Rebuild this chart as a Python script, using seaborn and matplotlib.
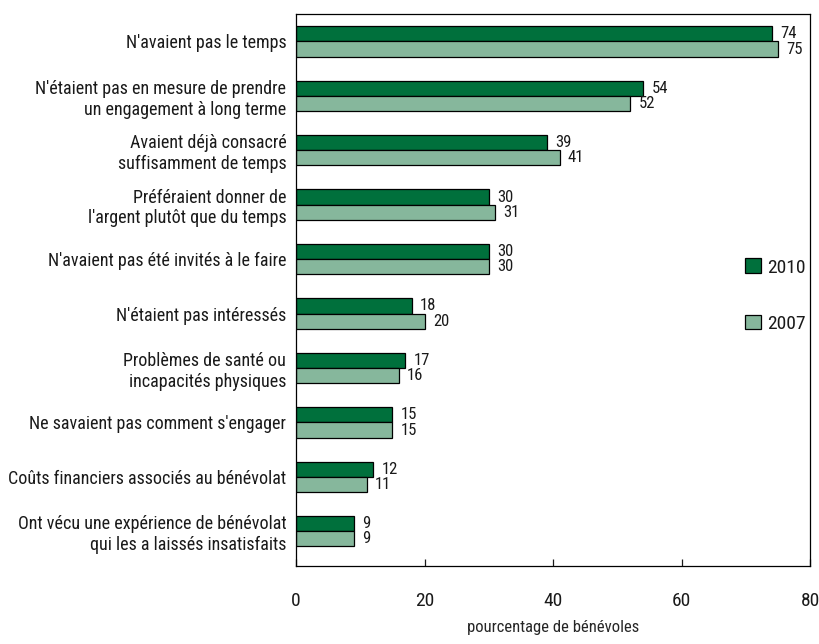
import pandas as pd
import matplotlib.pyplot as plt
import seaborn as sns

# Données
raisons = [
    "N'avaient pas le temps",
    "N'étaient pas en mesure de prendre\nun engagement à long terme",
    "Avaient déjà consacré\nsuffisamment de temps",
    "Préféraient donner de\nl'argent plutôt que du temps",
    "N'avaient pas été invités à le faire",
    "N'étaient pas intéressés",
    "Problèmes de santé ou\nincapacités physiques",
    "Ne savaient pas comment s'engager",
    "Coûts financiers associés au bénévolat",
    "Ont vécu une expérience de bénévolat\nqui les a laissés insatisfaits",
]
val_2010 = [74, 54, 39, 30, 30, 18, 17, 15, 12, 9]
val_2007 = [75, 52, 41, 31, 30, 20, 16, 15, 11, 9]
annees = ["2010", "2007"]
couleurs = ["#00703c", "#86b79c"]

df = pd.DataFrame({
    "raison": raisons * 2,
    "pct": val_2010 + val_2007,
    "annee": ["2010"] * len(raisons) + ["2007"] * len(raisons),
})

sns.set_theme(style="white")
plt.rcParams['font.family'] = ['Roboto Condensed', 'DejaVu Sans']
plt.rcParams['text.color'] = '#1a1a1a'
plt.rcParams['xtick.color'] = '#1a1a1a'
plt.rcParams['ytick.color'] = '#1a1a1a'

fig, ax = plt.subplots(figsize=(8.2, 6.44), dpi=100)

sns.barplot(ax=ax, data=df, y="raison", x="pct", hue="annee", hue_order=annees,
            palette=couleurs, orient="h", width=0.56, edgecolor="black",
            linewidth=0.9, saturation=1)

for cont in ax.containers:
    ax.bar_label(cont, padding=6, fontsize=12)

ax.set_xlim(0, 80)
ax.set_ylim(9.64, -0.5)
ax.set_xticks([0, 20, 40, 60, 80])
ax.tick_params(axis='x', direction='in', length=5, width=0.9, pad=19, labelsize=14, bottom=True)
ax.tick_params(axis='y', length=0, pad=7, labelsize=13)
ax.set_ylabel("")
ax.set_xlabel("pourcentage de bénévoles", fontsize=12, labelpad=7)

for s in ax.spines.values():
    s.set_color("black")
    s.set_linewidth(0.9)

ax.legend(loc="center left", bbox_to_anchor=(0.84, 0.49), frameon=False,
          fontsize=14, handlelength=0.8, handleheight=0.8, handletextpad=0.3,
          labelspacing=1.95)

plt.subplots_adjust(left=0.361, right=0.988, top=0.978, bottom=0.121)
plt.savefig("out.png")
